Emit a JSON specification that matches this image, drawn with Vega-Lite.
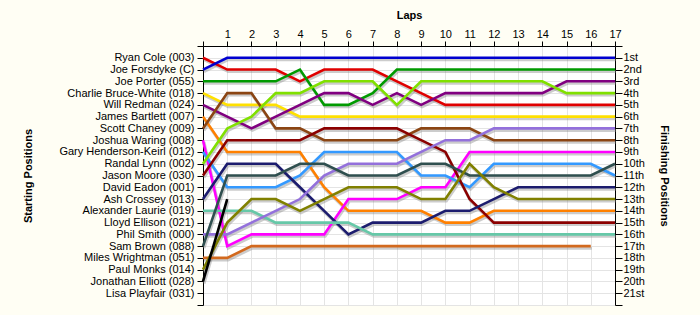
{
"$schema": "https://vega.github.io/schema/vega-lite/v6.json",
"width": 412, "height": 259,
"autosize": {"type": "none"},
"padding": {"left": 203, "top": 46, "right": 85, "bottom": 10},
"background": "#FFFEF4",
"config": {"view": {"fill": "#FFFFFF", "stroke": null}, "font": "Liberation Sans",
  "axis": {"labelFont": "Liberation Sans", "titleFont": "Liberation Sans", "labelFontSize": 11, "titleFontSize": 11, "titleFontWeight": "bold", "labelColor": "#000000", "titleColor": "#000000", "domainColor": "#000000", "tickColor": "#000000", "gridColor": "#E4E4E4", "labelOverlap": false, "labelFlush": false}},
"data": {"values": [
{"driver":"Ryan Cole (003)","lap":0,"pos":1},{"driver":"Ryan Cole (003)","lap":1,"pos":2},{"driver":"Ryan Cole (003)","lap":2,"pos":2},{"driver":"Ryan Cole (003)","lap":3,"pos":2},{"driver":"Ryan Cole (003)","lap":4,"pos":3},{"driver":"Ryan Cole (003)","lap":5,"pos":2},{"driver":"Ryan Cole (003)","lap":6,"pos":2},{"driver":"Ryan Cole (003)","lap":7,"pos":2},{"driver":"Ryan Cole (003)","lap":8,"pos":3},{"driver":"Ryan Cole (003)","lap":9,"pos":4},{"driver":"Ryan Cole (003)","lap":10,"pos":5},{"driver":"Ryan Cole (003)","lap":11,"pos":5},{"driver":"Ryan Cole (003)","lap":12,"pos":5},{"driver":"Ryan Cole (003)","lap":13,"pos":5},{"driver":"Ryan Cole (003)","lap":14,"pos":5},{"driver":"Ryan Cole (003)","lap":15,"pos":5},{"driver":"Ryan Cole (003)","lap":16,"pos":5},{"driver":"Ryan Cole (003)","lap":17,"pos":5},
{"driver":"Joe Forsdyke (C)","lap":0,"pos":2},{"driver":"Joe Forsdyke (C)","lap":1,"pos":1},{"driver":"Joe Forsdyke (C)","lap":2,"pos":1},{"driver":"Joe Forsdyke (C)","lap":3,"pos":1},{"driver":"Joe Forsdyke (C)","lap":4,"pos":1},{"driver":"Joe Forsdyke (C)","lap":5,"pos":1},{"driver":"Joe Forsdyke (C)","lap":6,"pos":1},{"driver":"Joe Forsdyke (C)","lap":7,"pos":1},{"driver":"Joe Forsdyke (C)","lap":8,"pos":1},{"driver":"Joe Forsdyke (C)","lap":9,"pos":1},{"driver":"Joe Forsdyke (C)","lap":10,"pos":1},{"driver":"Joe Forsdyke (C)","lap":11,"pos":1},{"driver":"Joe Forsdyke (C)","lap":12,"pos":1},{"driver":"Joe Forsdyke (C)","lap":13,"pos":1},{"driver":"Joe Forsdyke (C)","lap":14,"pos":1},{"driver":"Joe Forsdyke (C)","lap":15,"pos":1},{"driver":"Joe Forsdyke (C)","lap":16,"pos":1},{"driver":"Joe Forsdyke (C)","lap":17,"pos":1},
{"driver":"Joe Porter (055)","lap":0,"pos":3},{"driver":"Joe Porter (055)","lap":1,"pos":3},{"driver":"Joe Porter (055)","lap":2,"pos":3},{"driver":"Joe Porter (055)","lap":3,"pos":3},{"driver":"Joe Porter (055)","lap":4,"pos":2},{"driver":"Joe Porter (055)","lap":5,"pos":5},{"driver":"Joe Porter (055)","lap":6,"pos":5},{"driver":"Joe Porter (055)","lap":7,"pos":4},{"driver":"Joe Porter (055)","lap":8,"pos":2},{"driver":"Joe Porter (055)","lap":9,"pos":2},{"driver":"Joe Porter (055)","lap":10,"pos":2},{"driver":"Joe Porter (055)","lap":11,"pos":2},{"driver":"Joe Porter (055)","lap":12,"pos":2},{"driver":"Joe Porter (055)","lap":13,"pos":2},{"driver":"Joe Porter (055)","lap":14,"pos":2},{"driver":"Joe Porter (055)","lap":15,"pos":2},{"driver":"Joe Porter (055)","lap":16,"pos":2},{"driver":"Joe Porter (055)","lap":17,"pos":2},
{"driver":"Charlie Bruce-White (018)","lap":0,"pos":4},{"driver":"Charlie Bruce-White (018)","lap":1,"pos":5},{"driver":"Charlie Bruce-White (018)","lap":2,"pos":5},{"driver":"Charlie Bruce-White (018)","lap":3,"pos":5},{"driver":"Charlie Bruce-White (018)","lap":4,"pos":6},{"driver":"Charlie Bruce-White (018)","lap":5,"pos":6},{"driver":"Charlie Bruce-White (018)","lap":6,"pos":6},{"driver":"Charlie Bruce-White (018)","lap":7,"pos":6},{"driver":"Charlie Bruce-White (018)","lap":8,"pos":6},{"driver":"Charlie Bruce-White (018)","lap":9,"pos":6},{"driver":"Charlie Bruce-White (018)","lap":10,"pos":6},{"driver":"Charlie Bruce-White (018)","lap":11,"pos":6},{"driver":"Charlie Bruce-White (018)","lap":12,"pos":6},{"driver":"Charlie Bruce-White (018)","lap":13,"pos":6},{"driver":"Charlie Bruce-White (018)","lap":14,"pos":6},{"driver":"Charlie Bruce-White (018)","lap":15,"pos":6},{"driver":"Charlie Bruce-White (018)","lap":16,"pos":6},{"driver":"Charlie Bruce-White (018)","lap":17,"pos":6},
{"driver":"Will Redman (024)","lap":0,"pos":5},{"driver":"Will Redman (024)","lap":1,"pos":6},{"driver":"Will Redman (024)","lap":2,"pos":7},{"driver":"Will Redman (024)","lap":3,"pos":6},{"driver":"Will Redman (024)","lap":4,"pos":5},{"driver":"Will Redman (024)","lap":5,"pos":4},{"driver":"Will Redman (024)","lap":6,"pos":4},{"driver":"Will Redman (024)","lap":7,"pos":5},{"driver":"Will Redman (024)","lap":8,"pos":4},{"driver":"Will Redman (024)","lap":9,"pos":5},{"driver":"Will Redman (024)","lap":10,"pos":4},{"driver":"Will Redman (024)","lap":11,"pos":4},{"driver":"Will Redman (024)","lap":12,"pos":4},{"driver":"Will Redman (024)","lap":13,"pos":4},{"driver":"Will Redman (024)","lap":14,"pos":4},{"driver":"Will Redman (024)","lap":15,"pos":3},{"driver":"Will Redman (024)","lap":16,"pos":3},{"driver":"Will Redman (024)","lap":17,"pos":3},
{"driver":"James Bartlett (007)","lap":0,"pos":6},{"driver":"James Bartlett (007)","lap":1,"pos":9},{"driver":"James Bartlett (007)","lap":2,"pos":9},{"driver":"James Bartlett (007)","lap":3,"pos":9},{"driver":"James Bartlett (007)","lap":4,"pos":9},{"driver":"James Bartlett (007)","lap":5,"pos":12},{"driver":"James Bartlett (007)","lap":6,"pos":14},{"driver":"James Bartlett (007)","lap":7,"pos":14},{"driver":"James Bartlett (007)","lap":8,"pos":14},{"driver":"James Bartlett (007)","lap":9,"pos":14},{"driver":"James Bartlett (007)","lap":10,"pos":15},{"driver":"James Bartlett (007)","lap":11,"pos":15},{"driver":"James Bartlett (007)","lap":12,"pos":14},{"driver":"James Bartlett (007)","lap":13,"pos":14},{"driver":"James Bartlett (007)","lap":14,"pos":14},{"driver":"James Bartlett (007)","lap":15,"pos":14},{"driver":"James Bartlett (007)","lap":16,"pos":14},{"driver":"James Bartlett (007)","lap":17,"pos":14},
{"driver":"Scott Chaney (009)","lap":0,"pos":7},{"driver":"Scott Chaney (009)","lap":1,"pos":4},{"driver":"Scott Chaney (009)","lap":2,"pos":4},{"driver":"Scott Chaney (009)","lap":3,"pos":7},{"driver":"Scott Chaney (009)","lap":4,"pos":7},{"driver":"Scott Chaney (009)","lap":5,"pos":8},{"driver":"Scott Chaney (009)","lap":6,"pos":8},{"driver":"Scott Chaney (009)","lap":7,"pos":8},{"driver":"Scott Chaney (009)","lap":8,"pos":8},{"driver":"Scott Chaney (009)","lap":9,"pos":7},{"driver":"Scott Chaney (009)","lap":10,"pos":7},{"driver":"Scott Chaney (009)","lap":11,"pos":7},{"driver":"Scott Chaney (009)","lap":12,"pos":8},{"driver":"Scott Chaney (009)","lap":13,"pos":8},{"driver":"Scott Chaney (009)","lap":14,"pos":8},{"driver":"Scott Chaney (009)","lap":15,"pos":8},{"driver":"Scott Chaney (009)","lap":16,"pos":8},{"driver":"Scott Chaney (009)","lap":17,"pos":8},
{"driver":"Joshua Waring (008)","lap":0,"pos":8},{"driver":"Joshua Waring (008)","lap":1,"pos":17},{"driver":"Joshua Waring (008)","lap":2,"pos":16},{"driver":"Joshua Waring (008)","lap":3,"pos":16},{"driver":"Joshua Waring (008)","lap":4,"pos":16},{"driver":"Joshua Waring (008)","lap":5,"pos":16},{"driver":"Joshua Waring (008)","lap":6,"pos":13},{"driver":"Joshua Waring (008)","lap":7,"pos":13},{"driver":"Joshua Waring (008)","lap":8,"pos":13},{"driver":"Joshua Waring (008)","lap":9,"pos":12},{"driver":"Joshua Waring (008)","lap":10,"pos":12},{"driver":"Joshua Waring (008)","lap":11,"pos":9},{"driver":"Joshua Waring (008)","lap":12,"pos":9},{"driver":"Joshua Waring (008)","lap":13,"pos":9},{"driver":"Joshua Waring (008)","lap":14,"pos":9},{"driver":"Joshua Waring (008)","lap":15,"pos":9},{"driver":"Joshua Waring (008)","lap":16,"pos":9},{"driver":"Joshua Waring (008)","lap":17,"pos":9},
{"driver":"Gary Henderson-Keirl (012)","lap":0,"pos":9},{"driver":"Gary Henderson-Keirl (012)","lap":1,"pos":12},{"driver":"Gary Henderson-Keirl (012)","lap":2,"pos":12},{"driver":"Gary Henderson-Keirl (012)","lap":3,"pos":12},{"driver":"Gary Henderson-Keirl (012)","lap":4,"pos":11},{"driver":"Gary Henderson-Keirl (012)","lap":5,"pos":9},{"driver":"Gary Henderson-Keirl (012)","lap":6,"pos":9},{"driver":"Gary Henderson-Keirl (012)","lap":7,"pos":9},{"driver":"Gary Henderson-Keirl (012)","lap":8,"pos":9},{"driver":"Gary Henderson-Keirl (012)","lap":9,"pos":11},{"driver":"Gary Henderson-Keirl (012)","lap":10,"pos":11},{"driver":"Gary Henderson-Keirl (012)","lap":11,"pos":12},{"driver":"Gary Henderson-Keirl (012)","lap":12,"pos":10},{"driver":"Gary Henderson-Keirl (012)","lap":13,"pos":10},{"driver":"Gary Henderson-Keirl (012)","lap":14,"pos":10},{"driver":"Gary Henderson-Keirl (012)","lap":15,"pos":10},{"driver":"Gary Henderson-Keirl (012)","lap":16,"pos":10},{"driver":"Gary Henderson-Keirl (012)","lap":17,"pos":11},
{"driver":"Randal Lynn (002)","lap":0,"pos":10},{"driver":"Randal Lynn (002)","lap":1,"pos":7},{"driver":"Randal Lynn (002)","lap":2,"pos":6},{"driver":"Randal Lynn (002)","lap":3,"pos":4},{"driver":"Randal Lynn (002)","lap":4,"pos":4},{"driver":"Randal Lynn (002)","lap":5,"pos":3},{"driver":"Randal Lynn (002)","lap":6,"pos":3},{"driver":"Randal Lynn (002)","lap":7,"pos":3},{"driver":"Randal Lynn (002)","lap":8,"pos":5},{"driver":"Randal Lynn (002)","lap":9,"pos":3},{"driver":"Randal Lynn (002)","lap":10,"pos":3},{"driver":"Randal Lynn (002)","lap":11,"pos":3},{"driver":"Randal Lynn (002)","lap":12,"pos":3},{"driver":"Randal Lynn (002)","lap":13,"pos":3},{"driver":"Randal Lynn (002)","lap":14,"pos":3},{"driver":"Randal Lynn (002)","lap":15,"pos":4},{"driver":"Randal Lynn (002)","lap":16,"pos":4},{"driver":"Randal Lynn (002)","lap":17,"pos":4},
{"driver":"Jason Moore (030)","lap":0,"pos":11},{"driver":"Jason Moore (030)","lap":1,"pos":8},{"driver":"Jason Moore (030)","lap":2,"pos":8},{"driver":"Jason Moore (030)","lap":3,"pos":8},{"driver":"Jason Moore (030)","lap":4,"pos":8},{"driver":"Jason Moore (030)","lap":5,"pos":7},{"driver":"Jason Moore (030)","lap":6,"pos":7},{"driver":"Jason Moore (030)","lap":7,"pos":7},{"driver":"Jason Moore (030)","lap":8,"pos":7},{"driver":"Jason Moore (030)","lap":9,"pos":8},{"driver":"Jason Moore (030)","lap":10,"pos":9},{"driver":"Jason Moore (030)","lap":11,"pos":13},{"driver":"Jason Moore (030)","lap":12,"pos":15},{"driver":"Jason Moore (030)","lap":13,"pos":15},{"driver":"Jason Moore (030)","lap":14,"pos":15},{"driver":"Jason Moore (030)","lap":15,"pos":15},{"driver":"Jason Moore (030)","lap":16,"pos":15},{"driver":"Jason Moore (030)","lap":17,"pos":15},
{"driver":"Ash Crossey (013)","lap":0,"pos":13},{"driver":"Ash Crossey (013)","lap":1,"pos":10},{"driver":"Ash Crossey (013)","lap":2,"pos":10},{"driver":"Ash Crossey (013)","lap":3,"pos":10},{"driver":"Ash Crossey (013)","lap":4,"pos":12},{"driver":"Ash Crossey (013)","lap":5,"pos":14},{"driver":"Ash Crossey (013)","lap":6,"pos":16},{"driver":"Ash Crossey (013)","lap":7,"pos":15},{"driver":"Ash Crossey (013)","lap":8,"pos":15},{"driver":"Ash Crossey (013)","lap":9,"pos":15},{"driver":"Ash Crossey (013)","lap":10,"pos":14},{"driver":"Ash Crossey (013)","lap":11,"pos":14},{"driver":"Ash Crossey (013)","lap":12,"pos":13},{"driver":"Ash Crossey (013)","lap":13,"pos":12},{"driver":"Ash Crossey (013)","lap":14,"pos":12},{"driver":"Ash Crossey (013)","lap":15,"pos":12},{"driver":"Ash Crossey (013)","lap":16,"pos":12},{"driver":"Ash Crossey (013)","lap":17,"pos":12},
{"driver":"Alexander Laurie (019)","lap":0,"pos":14},{"driver":"Alexander Laurie (019)","lap":1,"pos":14},{"driver":"Alexander Laurie (019)","lap":2,"pos":14},{"driver":"Alexander Laurie (019)","lap":3,"pos":15},{"driver":"Alexander Laurie (019)","lap":4,"pos":15},{"driver":"Alexander Laurie (019)","lap":5,"pos":15},{"driver":"Alexander Laurie (019)","lap":6,"pos":15},{"driver":"Alexander Laurie (019)","lap":7,"pos":16},{"driver":"Alexander Laurie (019)","lap":8,"pos":16},{"driver":"Alexander Laurie (019)","lap":9,"pos":16},{"driver":"Alexander Laurie (019)","lap":10,"pos":16},{"driver":"Alexander Laurie (019)","lap":11,"pos":16},{"driver":"Alexander Laurie (019)","lap":12,"pos":16},{"driver":"Alexander Laurie (019)","lap":13,"pos":16},{"driver":"Alexander Laurie (019)","lap":14,"pos":16},{"driver":"Alexander Laurie (019)","lap":15,"pos":16},{"driver":"Alexander Laurie (019)","lap":16,"pos":16},{"driver":"Alexander Laurie (019)","lap":17,"pos":16},
{"driver":"Phil Smith (000)","lap":0,"pos":16},{"driver":"Phil Smith (000)","lap":1,"pos":16},{"driver":"Phil Smith (000)","lap":2,"pos":15},{"driver":"Phil Smith (000)","lap":3,"pos":14},{"driver":"Phil Smith (000)","lap":4,"pos":13},{"driver":"Phil Smith (000)","lap":5,"pos":11},{"driver":"Phil Smith (000)","lap":6,"pos":10},{"driver":"Phil Smith (000)","lap":7,"pos":10},{"driver":"Phil Smith (000)","lap":8,"pos":10},{"driver":"Phil Smith (000)","lap":9,"pos":9},{"driver":"Phil Smith (000)","lap":10,"pos":8},{"driver":"Phil Smith (000)","lap":11,"pos":8},{"driver":"Phil Smith (000)","lap":12,"pos":7},{"driver":"Phil Smith (000)","lap":13,"pos":7},{"driver":"Phil Smith (000)","lap":14,"pos":7},{"driver":"Phil Smith (000)","lap":15,"pos":7},{"driver":"Phil Smith (000)","lap":16,"pos":7},{"driver":"Phil Smith (000)","lap":17,"pos":7},
{"driver":"Sam Brown (088)","lap":0,"pos":17},{"driver":"Sam Brown (088)","lap":1,"pos":11},{"driver":"Sam Brown (088)","lap":2,"pos":11},{"driver":"Sam Brown (088)","lap":3,"pos":11},{"driver":"Sam Brown (088)","lap":4,"pos":10},{"driver":"Sam Brown (088)","lap":5,"pos":10},{"driver":"Sam Brown (088)","lap":6,"pos":11},{"driver":"Sam Brown (088)","lap":7,"pos":11},{"driver":"Sam Brown (088)","lap":8,"pos":11},{"driver":"Sam Brown (088)","lap":9,"pos":10},{"driver":"Sam Brown (088)","lap":10,"pos":10},{"driver":"Sam Brown (088)","lap":11,"pos":11},{"driver":"Sam Brown (088)","lap":12,"pos":11},{"driver":"Sam Brown (088)","lap":13,"pos":11},{"driver":"Sam Brown (088)","lap":14,"pos":11},{"driver":"Sam Brown (088)","lap":15,"pos":11},{"driver":"Sam Brown (088)","lap":16,"pos":11},{"driver":"Sam Brown (088)","lap":17,"pos":10},
{"driver":"Miles Wrightman (051)","lap":0,"pos":18},{"driver":"Miles Wrightman (051)","lap":1,"pos":18},{"driver":"Miles Wrightman (051)","lap":2,"pos":17},{"driver":"Miles Wrightman (051)","lap":3,"pos":17},{"driver":"Miles Wrightman (051)","lap":4,"pos":17},{"driver":"Miles Wrightman (051)","lap":5,"pos":17},{"driver":"Miles Wrightman (051)","lap":6,"pos":17},{"driver":"Miles Wrightman (051)","lap":7,"pos":17},{"driver":"Miles Wrightman (051)","lap":8,"pos":17},{"driver":"Miles Wrightman (051)","lap":9,"pos":17},{"driver":"Miles Wrightman (051)","lap":10,"pos":17},{"driver":"Miles Wrightman (051)","lap":11,"pos":17},{"driver":"Miles Wrightman (051)","lap":12,"pos":17},{"driver":"Miles Wrightman (051)","lap":13,"pos":17},{"driver":"Miles Wrightman (051)","lap":14,"pos":17},{"driver":"Miles Wrightman (051)","lap":15,"pos":17},{"driver":"Miles Wrightman (051)","lap":16,"pos":17},
{"driver":"Paul Monks (014)","lap":0,"pos":19},{"driver":"Paul Monks (014)","lap":1,"pos":15},{"driver":"Paul Monks (014)","lap":2,"pos":13},{"driver":"Paul Monks (014)","lap":3,"pos":13},{"driver":"Paul Monks (014)","lap":4,"pos":14},{"driver":"Paul Monks (014)","lap":5,"pos":13},{"driver":"Paul Monks (014)","lap":6,"pos":12},{"driver":"Paul Monks (014)","lap":7,"pos":12},{"driver":"Paul Monks (014)","lap":8,"pos":12},{"driver":"Paul Monks (014)","lap":9,"pos":13},{"driver":"Paul Monks (014)","lap":10,"pos":13},{"driver":"Paul Monks (014)","lap":11,"pos":10},{"driver":"Paul Monks (014)","lap":12,"pos":12},{"driver":"Paul Monks (014)","lap":13,"pos":13},{"driver":"Paul Monks (014)","lap":14,"pos":13},{"driver":"Paul Monks (014)","lap":15,"pos":13},{"driver":"Paul Monks (014)","lap":16,"pos":13},{"driver":"Paul Monks (014)","lap":17,"pos":13},
{"driver":"Jonathan Elliott (028)","lap":0,"pos":20},{"driver":"Jonathan Elliott (028)","lap":1,"pos":13}
]},
"encoding": {
  "x": {"field": "lap", "type": "quantitative", "scale": {"domain": [0, 17], "nice": false, "zero": false},
    "axis": {"orient": "top", "title": "Laps", "values": [0,1,2,3,4,5,6,7,8,9,10,11,12,13,14,15,16,17], "labelExpr": "datum.value == 0 ? '' : datum.label", "grid": true, "tickSize": 5, "labelPadding": 2, "titlePadding": 8}},
  "detail": {"field": "driver", "type": "nominal"}
},
"layer": [
  {"mark": {"type": "line", "stroke": "#808080", "opacity": 0.4, "strokeWidth": 3, "xOffset": 1, "yOffset": 2},
   "encoding": {"y": {"field": "pos", "type": "quantitative", "scale": {"domain": [0, 22], "reverse": true, "nice": false, "zero": false},
     "axis": {"orient": "left", "title": "Starting Positions", "values": [0,1,2,3,4,5,6,7,8,9,10,11,12,13,14,15,16,17,18,19,20,21,22], "grid": true, "tickSize": 6, "labelPadding": 3, "titlePadding": 25,
       "labelExpr": "['', 'Ryan Cole (003)', 'Joe Forsdyke (C)', 'Joe Porter (055)', 'Charlie Bruce-White (018)', 'Will Redman (024)', 'James Bartlett (007)', 'Scott Chaney (009)', 'Joshua Waring (008)', 'Gary Henderson-Keirl (012)', 'Randal Lynn (002)', 'Jason Moore (030)', 'David Eadon (001)', 'Ash Crossey (013)', 'Alexander Laurie (019)', 'Lloyd Ellison (021)', 'Phil Smith (000)', 'Sam Brown (088)', 'Miles Wrightman (051)', 'Paul Monks (014)', 'Jonathan Elliott (028)', 'Lisa Playfair (031)', ''][datum.value]"}}}},
  {"mark": {"type": "line", "strokeWidth": 2.6},
   "encoding": {"y": {"field": "pos", "type": "quantitative", "scale": {"domain": [0, 22], "reverse": true, "nice": false, "zero": false},
     "axis": {"orient": "right", "title": "Finishing Positions", "values": [0,1,2,3,4,5,6,7,8,9,10,11,12,13,14,15,16,17,18,19,20,21,22], "grid": false, "tickSize": 7, "labelPadding": 1, "titlePadding": 14,
       "labelExpr": "(datum.value < 1 || datum.value > 21) ? '' : datum.value + ((datum.value % 10 == 1 && datum.value != 11) ? 'st' : (datum.value % 10 == 2 && datum.value != 12) ? 'nd' : (datum.value % 10 == 3 && datum.value != 13) ? 'rd' : 'th')"}},
     "color": {"field": "driver", "type": "nominal", "legend": null,
       "scale": {"domain": ["Ryan Cole (003)", "Joe Forsdyke (C)", "Joe Porter (055)", "Charlie Bruce-White (018)", "Will Redman (024)", "James Bartlett (007)", "Scott Chaney (009)", "Joshua Waring (008)", "Gary Henderson-Keirl (012)", "Randal Lynn (002)", "Jason Moore (030)", "Ash Crossey (013)", "Alexander Laurie (019)", "Phil Smith (000)", "Sam Brown (088)", "Miles Wrightman (051)", "Paul Monks (014)", "Jonathan Elliott (028)"],
         "range": ["#E00000", "#0000D0", "#009A00", "#FFE000", "#800080", "#FF8000", "#8B4513", "#FF00FF", "#3399FF", "#80E000", "#8B0000", "#1C1C6E", "#66C8A8", "#9370DB", "#2F4F4F", "#D2691E", "#808000", "#000000"]}}}}
],
"resolve": {"axis": {"y": "independent"}}
}
